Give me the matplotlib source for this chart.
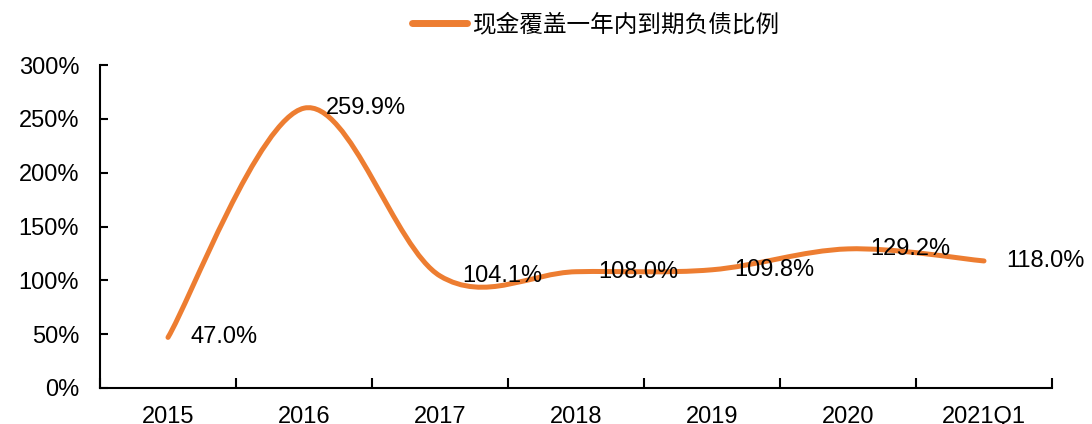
import matplotlib.pyplot as plt
import numpy as np
from matplotlib.path import Path
from matplotlib.patches import PathPatch
from matplotlib.lines import Line2D
from matplotlib.ticker import FixedLocator, PercentFormatter

plt.rcParams['font.family'] = ['Liberation Sans', 'Noto Sans CJK SC', 'DejaVu Sans']

# 数据
categories = ['2015', '2016', '2017', '2018', '2019', '2020', '2021Q1']
ratio = [47.0, 259.9, 104.1, 108.0, 109.8, 129.2, 118.0]
series_name = '现金覆盖一年内到期负债比例'

ORANGE = '#ED7D31'


def smooth_path(xs, ys):
    """Excel 风格平滑线：Catmull-Rom 转三次贝塞尔"""
    pts = np.column_stack([xs, ys]).astype(float)
    n = len(pts)
    verts = [pts[0]]
    codes = [Path.MOVETO]
    for i in range(n - 1):
        p0 = pts[i - 1] if i > 0 else pts[i]
        p1 = pts[i]
        p2 = pts[i + 1]
        p3 = pts[i + 2] if i + 2 < n else pts[i + 1]
        c1 = p1 + (p2 - p0) / 6.0
        c2 = p2 - (p3 - p1) / 6.0
        verts += [c1, c2, p2]
        codes += [Path.CURVE4] * 3
    return Path(verts, codes)


fig = plt.figure(figsize=(10.92, 4.24), dpi=100)
ax = fig.add_axes([100 / 1092, 36 / 424, 952 / 1092, 323 / 424])

x = np.arange(len(categories))
# 用数据坐标绘制平滑曲线
patch = PathPatch(smooth_path(x, ratio), facecolor='none', edgecolor=ORANGE,
                  lw=3.6, capstyle='round', joinstyle='round', transform=ax.transData)
ax.add_patch(patch)

for xi, v in zip(x, ratio):
    ax.annotate(f'{v:.1f}%', (xi, v), xytext=(16, 0), textcoords='offset points',
                ha='left', va='center', fontsize=17, color='black')

ax.set_xlim(-0.5, len(categories) - 0.5)
ax.set_ylim(0, 300)
ax.yaxis.set_major_locator(FixedLocator(np.arange(0, 301, 50)))
ax.yaxis.set_major_formatter(PercentFormatter(decimals=0))

ax.xaxis.set_major_locator(FixedLocator(np.arange(-0.5, len(categories), 1.0)))
ax.xaxis.set_minor_locator(FixedLocator(x))
ax.set_xticklabels([], minor=False)
ax.set_xticks(x, categories, minor=True)

for s in ['top', 'right']:
    ax.spines[s].set_visible(False)
for s in ['left', 'bottom']:
    ax.spines[s].set_linewidth(1.5)
    ax.spines[s].set_color('black')

ax.tick_params(axis='y', direction='in', length=6, width=1.5, labelsize=17, pad=15)
ax.tick_params(axis='x', which='major', direction='in', length=7, width=1.5)
ax.tick_params(axis='x', which='minor', length=0, labelsize=17, pad=13)

handle = Line2D([], [], color=ORANGE, lw=5, solid_capstyle='round')
fig.legend([handle], [series_name], loc='center', bbox_to_anchor=(596 / 1092, 1 - 25 / 424),
           frameon=False, fontsize=17, handlelength=2.3, handletextpad=0.25)

fig.savefig('out.png', dpi=100)
